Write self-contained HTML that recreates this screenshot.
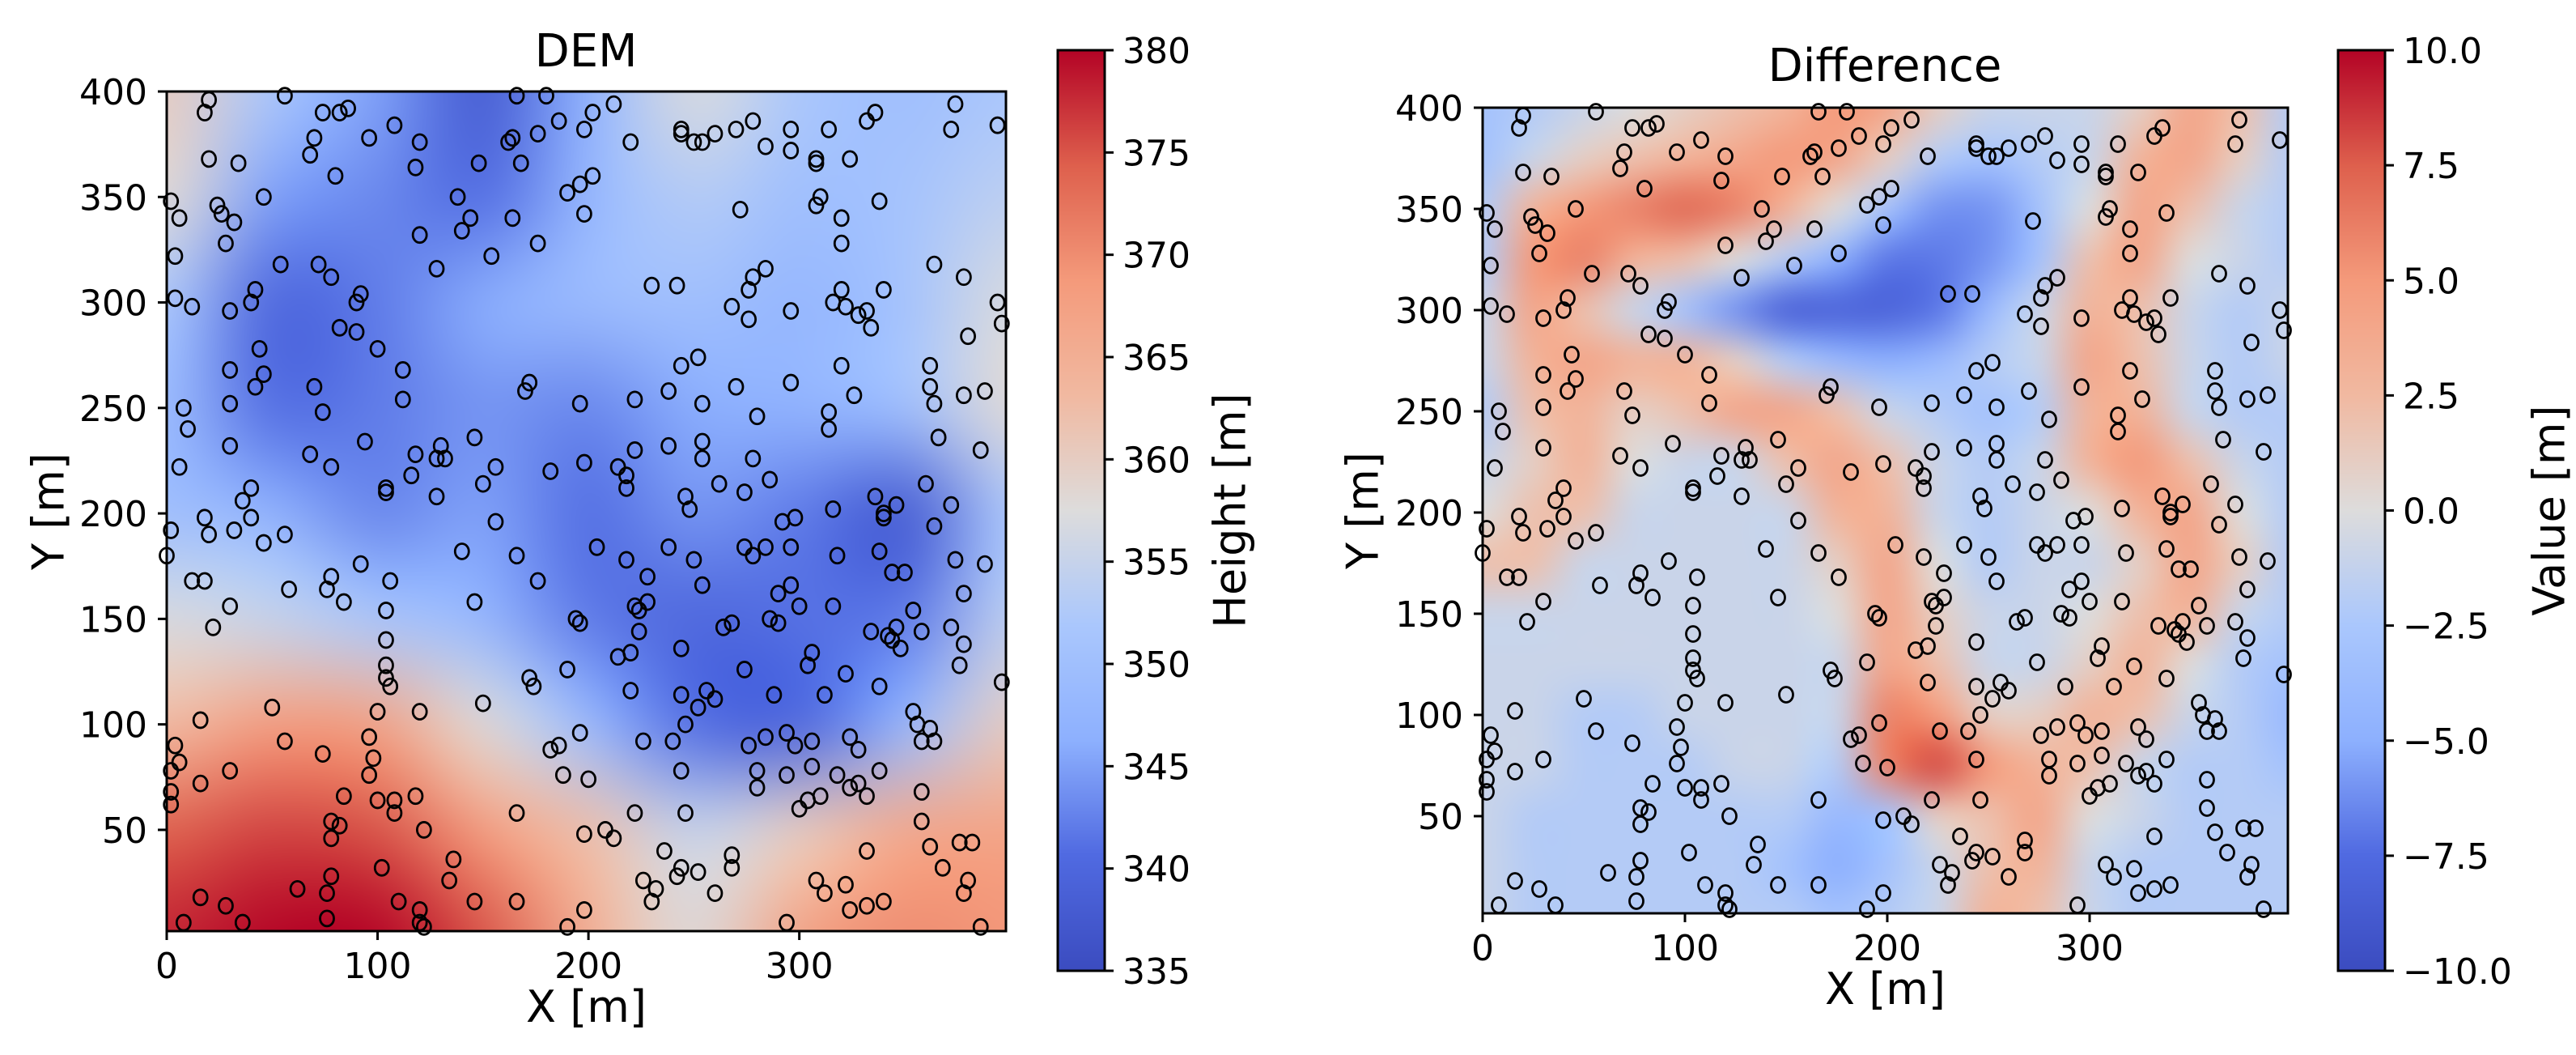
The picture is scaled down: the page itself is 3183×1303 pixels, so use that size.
<!DOCTYPE html>
<html><head><meta charset="utf-8"><style>
html,body{margin:0;padding:0;background:#fff;}
#wrap{position:relative;width:3183px;height:1303px;overflow:hidden;font-family:"DejaVu Sans","Liberation Sans",sans-serif;}
canvas{position:absolute;}
svg{position:absolute;left:0;top:0;}
</style></head><body>
<div id="wrap">
<canvas id="demCanvas"></canvas>
<canvas id="diffCanvas"></canvas>
<canvas id="cb1"></canvas>
<canvas id="cb2"></canvas>
<svg id="svg" width="3183" height="1303" xmlns="http://www.w3.org/2000/svg"></svg>
</div>
<script>
// ---------- data ----------
const demX = [0,50,100,150,200,250,300,350,400];
const demY = [400,350,300,250,200,150,100,50,0];
const demValues = [
[360,352,345,338,347,357,352,350,352],
[358,345,343,341,348,353,350,351,354],
[352,340,342,346,349,350,348,351,357],
[349,341,342,344,343,346,347,350,358],
[350,347,343,345,341,344,342,338,352],
[357,355,352,348,342,340,341,342,354],
[363,368,367,358,349,341,340,348,360],
[374,376,375,368,362,355,360,366,367],
[378,380,380,375,365,358,367,370,369]];
const diffValues = [
[-3,-2,-1,0,1,2,3,5,4,1,-1,-1,-1,1,4,2,-2],
[-3,-1,1,2,3,4,5,4,1,-2,-3,-2,-1,3,4,1,-2],
[-2,3,5,6,7,6,3,0,-3,-6,-6,-3,0,4,2,-1,-2],
[-2,5,6,3,2,0,-2,-5,-7,-7,-6,-3,2,4,0,-1,-2],
[-1,4,2,-1,-3,-6,-8,-8,-8,-7,-4,-1,3,2,-1,-2,-1],
[-1,3,4,3,3,1,-2,-4,-5,-4,-2,-1,4,2,-1,-2,-1],
[-2,2,3,1,2,4,4,2,-1,-2,-3,-2,3,3,-1,-2,-2],
[-1,1,3,0,-1,-1,2,4,2,-1,-2,-1,3,5,2,-1,-2],
[0,2,2,-1,-1,-1,-1,3,3,-1,-2,-1,0,3,4,0,-2],
[2,2,-1,-1,-1,-1,-1,1,4,0,-2,-1,-1,1,4,1,-2],
[-1,-1,-1,-1,-1,-1,-1,0,4,1,-1,-1,0,2,3,-1,-2],
[-1,-1,-1,-1,-1,-1,-1,-1,4,2,-1,-1,1,3,0,-2,-3],
[-1,-1,-2,-2,-1,-1,-1,-1,6,5,1,1,3,2,-1,-2,-4],
[-1,-1,-2,-2,-2,-1,-1,-2,6,8,5,3,2,-1,-2,-2,-3],
[-1,-2,-2,-2,-2,-2,-2,-4,-3,1,2,4,0,-1,-2,-2,-2],
[-1,-2,-2,-2,-2,-2,-3,-5,-3,-1,2,3,-1,-2,-2,-2,-2],
[-1,-2,-2,-2,-2,-2,-2,-3,-2,-1,3,2,-1,-2,-2,-2,-2]];
const ptsX = [20,18,56,74,82,86,96,108,120,118,70,68,80,34,20,2,6,24,26,32,46,28,4,4,12,30,40,42,54,72,78,90,92,82,90,100,44,46,42,30,30,8,10,30,6,40,36,40,18,20,32,46,56,2,0,12,18,22,30,58,70,74,94,112,112,68,78,104,104,116,118,130,128,132,128,146,150,156,156,140,166,176,146,78,76,84,92,106,104,104,104,104,106,100,120,150,172,174,190,196,186,182,188,200,16,50,56,74,96,98,96,4,6,2,2,2,30,16,84,100,108,108,118,122,78,78,82,166,198,208,212,16,28,8,36,62,76,76,78,102,110,120,120,122,136,134,146,166,190,198,222,226,232,230,236,242,244,252,260,268,268,294,308,312,322,324,332,340,332,358,358,362,368,376,382,380,378,386,180,166,162,164,168,176,186,198,202,212,220,148,138,140,144,154,176,164,120,128,190,196,202,198,244,244,250,254,260,270,278,284,296,296,308,308,314,324,332,336,372,374,394,338,308,310,320,320,272,230,242,268,276,276,278,284,296,316,322,328,332,334,320,340,364,378,380,394,396,244,252,238,254,270,280,296,314,314,320,326,362,362,364,378,388,366,386,222,222,196,170,172,238,254,254,262,274,278,286,198,214,218,218,182,246,248,298,292,316,336,340,340,346,360,372,364,388,374,378,372,378,376,396,358,354,346,344,342,334,348,344,350,338,318,316,300,296,290,286,290,274,278,284,296,238,204,218,228,250,254,222,224,228,224,194,196,220,214,264,268,306,304,274,322,338,312,288,252,256,260,244,246,244,220,226,240,276,284,294,298,306,324,328,354,356,358,362,364,244,246,280,280,294,306,310,300,304,318,324,328,332,338];
const ptsY = [396,390,398,390,390,392,378,384,376,364,378,370,360,366,368,348,340,346,342,338,350,328,322,302,298,296,300,306,318,318,312,300,304,288,286,278,278,266,260,268,252,250,240,232,222,212,206,198,198,190,192,186,190,192,180,168,168,146,156,164,260,248,234,268,254,228,222,210,212,218,228,232,226,226,208,236,214,222,196,182,180,168,158,170,164,158,176,168,154,140,128,122,118,106,106,110,122,118,126,96,90,88,76,74,102,108,92,86,94,84,76,90,82,78,68,62,78,72,66,64,64,58,66,50,54,46,52,58,48,50,46,18,14,6,6,22,20,8,28,32,16,12,6,4,36,26,16,16,4,12,58,26,22,16,40,28,32,30,20,32,38,6,26,20,24,12,14,16,40,54,68,42,32,44,44,26,20,4,398,398,376,378,366,380,386,382,390,394,376,366,350,334,340,322,328,340,332,316,352,356,360,342,380,382,376,376,380,382,386,374,382,372,366,368,382,368,386,390,382,394,384,348,346,350,340,328,344,308,308,298,292,306,312,316,296,300,298,294,296,288,306,306,318,312,284,300,290,270,274,258,252,260,246,262,248,240,270,256,270,260,252,256,258,236,230,254,230,252,258,262,232,234,226,214,210,226,216,224,222,218,212,220,208,202,198,196,202,208,198,200,204,214,204,194,176,178,162,146,138,128,120,144,154,146,140,142,144,136,172,172,182,180,156,156,166,162,150,148,184,180,184,184,184,184,178,170,178,166,156,154,158,144,150,148,134,132,146,148,134,128,126,124,118,114,114,108,116,112,114,100,136,116,92,92,90,94,96,90,92,94,88,106,100,92,98,92,78,58,78,70,76,80,66,60,64,76,70,72,66,78];
const demTicks = [335,340,345,350,355,360,365,370,375,380];
const diffTicks = [-10,-7.5,-5,-2.5,0,2.5,5,7.5,10];
const axTicksX = [0,100,200,300];
const axTicksY = [50,100,150,200,250,300,350,400];

// ---------- colormap ----------
const stops=[[0,59,76,192],[0.125,80,106,225],[0.25,141,176,254],[0.375,170,199,253],[0.5,221,220,220],[0.625,241,185,161],[0.75,244,154,123],[0.875,222,96,77],[1,180,4,38]];
function cmap(t){t=Math.max(0,Math.min(1,t));for(let i=1;i<stops.length;i++){if(t<=stops[i][0]){const a=stops[i-1],b=stops[i];const f=(t-a[0])/(b[0]-a[0]);return [0,1,2].map(k=>Math.round(a[k+1]+(b[k+1]-a[k+1])*f));}}return [180,4,38];}

// ---------- layout ----------
const L={x0:206,y0:113,size:1037,dmin:0,dmax:398,ymin:2,cbx:1307,cbw:58,cby:62,cbh:1137,vmin:335,vmax:380,grid:demValues,ticks:demTicks,dec:0,title:'DEM',tx:724,ty:82,cbl:'Height [m]',cblx:1520,ylx:60,canvas:'demCanvas',cb:'cb1',pre:'dem'};
const R={x0:1832,y0:133,size:995,dmin:0,dmax:398,ymin:2,cbx:2889,cbw:58,cby:62,cbh:1137,vmin:-10,vmax:10,grid:diffValues,ticks:diffTicks,dec:1,title:'Difference',tx:2329,ty:100,cbl:'Value [m]',cblx:3150,ylx:1684,canvas:'diffCanvas',cb:'cb2',pre:'diff'};
const NS='http://www.w3.org/2000/svg';
const svg=document.getElementById('svg');
function mk(tag,attrs,parent){const e=document.createElementNS(NS,tag);for(const k in attrs)e.setAttribute(k,attrs[k]);(parent||svg).appendChild(e);return e;}
function txt(s,attrs){const e=mk('text',attrs);e.textContent=s;return e;}
function fmt(v,d){let s=v.toFixed(d);return v<0?'\u2212'+s.slice(1):s;}

function draw(P){
  const sx=v=>P.x0+(v-P.dmin)/(P.dmax-P.dmin)*P.size;
  const sy=v=>P.y0+P.size-(v-P.ymin)/(400-P.ymin)*P.size;
  const g=P.grid, nr=g.length, nc=g[0].length;
  const small=document.createElement('canvas');small.width=nc;small.height=nr;
  const sc=small.getContext('2d');const img=sc.createImageData(nc,nr);
  for(let r=0;r<nr;r++)for(let c=0;c<nc;c++){const col=cmap((g[r][c]-P.vmin)/(P.vmax-P.vmin));const i=(r*nc+c)*4;img.data[i]=col[0];img.data[i+1]=col[1];img.data[i+2]=col[2];img.data[i+3]=255;}
  sc.putImageData(img,0,0);
  const cv=document.getElementById(P.canvas);cv.width=P.size;cv.height=P.size;cv.style.left=P.x0+'px';cv.style.top=P.y0+'px';
  const ctx=cv.getContext('2d');ctx.imageSmoothingEnabled=true;ctx.imageSmoothingQuality='high';
  const cw=P.size*400/(P.dmax-P.dmin)/(nc-1), ch=P.size*(400-0)/(400-P.ymin)/(nr-1);
  ctx.drawImage(small,-cw/2,sy(400)-P.y0-ch/2,cw*nc,ch*nr);
  const cb=document.getElementById(P.cb);cb.width=P.cbw;cb.height=P.cbh;cb.style.left=P.cbx+'px';cb.style.top=P.cby+'px';
  const cc=cb.getContext('2d');
  for(let y=0;y<P.cbh;y++){const col=cmap(1-y/(P.cbh-1));cc.fillStyle='rgb('+col.join(',')+')';cc.fillRect(0,y,P.cbw,1);}
  const cbG=mk('g',{});
  mk('rect',{x:P.cbx,y:P.cby,width:P.cbw,height:P.cbh,fill:'none',stroke:'#000','stroke-width':3},cbG);
  P.ticks.forEach(t=>{const y=P.cby+P.cbh-(t-P.vmin)/(P.vmax-P.vmin)*P.cbh;
    mk('line',{x1:P.cbx+P.cbw,x2:P.cbx+P.cbw+11,y1:y,y2:y,stroke:'#000','stroke-width':3},cbG);
    const e=txt(fmt(t,P.dec),{x:P.cbx+P.cbw+22,y:y+16,'font-size':44,fill:'#000'});
    });
  const cl=txt(P.cbl,{x:P.cblx,y:P.cby+P.cbh/2,'font-size':54,'text-anchor':'middle','dominant-baseline':'central',transform:'rotate(-90 '+P.cblx+' '+(P.cby+P.cbh/2)+')'});
  
  const pg=mk('g',{});
  ptsX.forEach((x,i)=>{const c=mk('ellipse',{cx:sx(x),cy:sy(ptsY[i]),rx:8.5,ry:9.5,fill:'none',stroke:'#000','stroke-width':2.8},pg);
    });
  const fr=mk('rect',{x:P.x0,y:P.y0,width:P.size,height:P.size,fill:'none',stroke:'#000','stroke-width':3});
  
  axTicksX.forEach(t=>{const x=sx(t);mk('line',{x1:x,x2:x,y1:P.y0+P.size,y2:P.y0+P.size+11,stroke:'#000','stroke-width':3});
    const e=txt(String(t),{x:x,y:P.y0+P.size+58,'font-size':44,'text-anchor':'middle'});
    });
  axTicksY.forEach(t=>{const y=sy(t);mk('line',{x1:P.x0-11,x2:P.x0,y1:y,y2:y,stroke:'#000','stroke-width':3});
    const e=txt(String(t),{x:P.x0-24,y:y+16,'font-size':44,'text-anchor':'end'});
    });
  const xl=txt('X [m]',{x:P.x0+P.size/2,y:P.y0+P.size+112,'font-size':54,'text-anchor':'middle'});
  
  const cy=P.y0+P.size/2;
  const yl=txt('Y [m]',{x:P.ylx,y:cy,'font-size':54,'text-anchor':'middle','dominant-baseline':'central',transform:'rotate(-90 '+P.ylx+' '+cy+')'});
  
  const ti=txt(P.title,{x:P.tx,y:P.ty,'font-size':56,'text-anchor':'middle'});
  
}
draw(L);draw(R);
</script>
</body></html>
